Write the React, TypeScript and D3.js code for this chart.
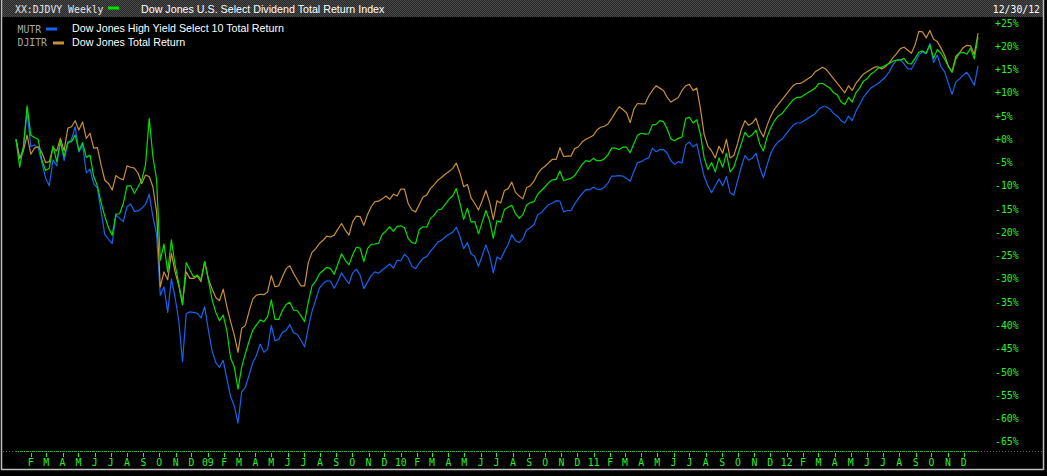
import React from "react";
import * as d3 from "d3";

// Weekly observations, Fri 2008-01-04 .. Fri 2012-12-28 (261 weeks)
const startDate = new Date(2008, 0, 4);
const endDate = new Date(2012, 11, 28);
const weeks: Date[] = d3.timeFriday.range(startDate, d3.timeDay.offset(endDate, 1));

// % change since first week
const djdvy: number[] = [
  0, -6, -1.6, 7.2, 0.9, 0.4, 0, -4.5, -6.7, -6.2,
  -1.4, -4.8, -0.5, -3.7, -0.6, -0.5, 0.9, -2.5, -0.7, -3.9,
  -3.4, -8, -10, -13.6, -16.5, -19, -20.6, -16.1, -16, -13.8,
  -10, -10, -11.6, -10.2, -8.7, -5.5, 4.5, -3.7, -8.7,
  -26, -22.5, -28.5, -21.6, -27, -31, -35.6, -26.5, -28.1, -29.6,
  -29.2, -30.1, -26.3, -30.2, -34.5, -37.2, -39, -37.8, -41.2, -47,
  -48.9, -53.7, -48.9, -46, -43.4, -41, -39.9, -38.8, -39.2, -38.1,
  -34.5, -38.7, -38.7, -36.8, -35.5, -35, -36.7, -36.8, -37.9, -39.2,
  -35,
  -31.5, -30.5, -28.9, -28.2, -27.5, -27.8, -29, -26.8, -24.6, -26,
  -27, -24.8, -23.2, -23.4, -26.3, -23.5, -22.6, -22.5, -22.3, -20.4,
  -19.7, -18.8, -19.8, -18.7, -18.6, -19, -21.3, -22.2, -22.4, -19.4,
  -18.8, -18.9, -17, -16.3, -15.2, -15, -14, -12.9, -12.2, -10.6,
  -13.8, -17.2, -14.8, -17.8, -17.7, -20.3, -17.8, -15.3, -17.5, -21.3,
  -17.5, -17.8, -15.1, -14.6, -14.2, -16, -17, -16.2, -14.1, -13.6,
  -13.4, -11.8, -11, -10.2, -9.3, -8.7, -8.6, -6.8, -8.9, -8.6,
  -8.4, -7.8, -6.6, -5.4, -4.6, -4.8, -4.1, -4.6, -4.6, -4.2,
  -3.3, -1.9, -1.9, -2.2, -1.7, -1.7, -2.9, -0.9, 0.9, 1.3,
  1.1, 1.2, 3.1, 3.2, 4, 3.8, 2.2, 0.1, -0.3, 0.2,
  0.5, 4.5, 4.7, 3.5, 4.2, 1.0,
  -4, -6.5, -5, -7, -4, -6, -3, -7, -6, -3.5,
  -1, 1.5, 0.5, 1, 2, -1, -2.5, 0.5, 2.5, 4,
  5, 5.5, 6.5, 7.5, 8.5, 9, 9, 9.5, 10, 10.5,
  11, 12, 12, 11.5, 11, 10, 9.5, 8, 7.5, 9,
  8, 10, 11, 12.5, 13, 14, 14.5,
  15.3, 15.5, 15.9, 16.3, 16.8, 17, 17, 17.4, 16.3, 16.2,
  17.4, 18.7, 19, 18.5, 20.3, 17.4, 19.3, 18.5, 17.2, 15.6,
  14.4, 17.3, 18.5, 18.7, 18.3, 19.6, 17.3, 22,
];

const mutr: number[] = [
  0, -4.1, -1.8, 5.9, -1.6, -1.2, -1.9, -5, -8.3, -10,
  -4.4, -5.7, -0.4, -4.6, -1, 0, 2.7, -2.7, -1.2, -7.2,
  -6.4, -9.5, -10.5, -15.5, -20.5, -21.5, -22.4, -16.3, -17, -17.7,
  -14.5, -13.9, -15.5, -15.4, -14.8, -14, -11.8, -16.6, -20.5,
  -33.5, -31.7, -37.2, -30, -34, -39, -47.8, -37.5, -37.1, -37.2,
  -37.4, -38.4, -36, -41, -45.5, -48, -49, -47.5, -51.5, -55.3,
  -57.3, -61, -54.3, -53.3, -50.7, -48, -46.4, -44, -45.8, -45.1,
  -40, -43.3, -43, -41.5, -41.1, -39.8, -41.6, -41.9, -43.2, -44.6,
  -40.5,
  -37, -34.5, -32, -31, -30.4, -30.5, -32, -30.5, -28.7, -30,
  -31, -28.7, -27.9, -29.2, -32.1, -30.7, -29.3, -28.5, -28.8, -28.1,
  -27.5, -26.8, -27.7, -26, -26.1, -24.7, -25.5, -27.3, -27.8, -26.6,
  -25.6, -25.2, -24.1, -23.1, -22.1, -21.7, -21, -20.4, -20, -18.9,
  -20.9, -23.5, -22.2, -24.6, -25.2, -27.3, -25, -22.7, -25, -28.7,
  -25.3, -25.8, -24.1, -22.6, -20.5, -21.8, -22.2, -21.4, -19.5, -19,
  -18.3, -16.2, -15.8, -14.8, -14, -13.7, -13.2, -13.3, -15.6, -15.3,
  -15.3, -13.9, -12.7, -11.7, -10.8, -10.9, -10.3, -10.7, -10.8, -10.3,
  -9.4, -7.9, -7.9, -7.8, -7.9, -8.4, -9, -6.9, -5, -4.8,
  -4.3, -4, -1.9, -2.7, -2.2, -2.2, -3, -4.6, -5.4, -4.8,
  -5.1, -1.2, -0.6, -1.6, -1, -4.6,
  -8, -10, -11.5, -10, -8.5, -10, -8, -11.5, -12, -9,
  -6, -3.5, -4.5, -4, -3, -6, -8.3, -5.5, -3, -1.5,
  -0.5, 0, 1, 2, 3, 3.5, 3.5, 4, 4.5, 5,
  5.5, 6.5, 7, 7, 6.5, 5.5, 5, 4, 3.5, 5,
  4, 6, 7.5, 9, 10, 11, 11.5,
  12.0, 12.7, 13.4, 14.5, 16, 17, 17.2, 16.2, 15.2, 15.1,
  16.5, 18.1, 18.8, 18.4, 20.6, 16.5, 18.1, 15.6, 14.5, 12,
  9.7, 12.3, 13, 13.8, 14.4, 13.1, 11.6, 15.8,
];

const djitr: number[] = [
  0, -4.1, -2.5, 0.9, -3.2, -1.9, -1.6, -2.8, -5, -4.8,
  -1.8, -2.5, 0.2, -2.5, 2.4, 2.7, 4, 2, 3.7, 0.2,
  1.3, -1.9, -1.8, -5.5, -8.8, -9.5, -10.9, -7.8, -8.4, -8.7,
  -5.7, -6, -6.2, -7.3, -9.5, -7.7, -8, -10.2, -15.6,
  -31.7, -28.5, -30.2, -24.5, -28.5, -31.5, -35.3, -28.5, -29.9, -29.9,
  -29.4, -30.6, -26.3, -30, -32.2, -34, -34.7, -32.2, -36, -39.2,
  -42.1, -45.8, -40.6, -40, -37, -34.3, -33.5, -33.3, -33.4, -32.8,
  -29.3, -31.7, -31.5, -29.6, -27.8, -27.2, -28.8, -30.2, -31.5, -31.5,
  -26.5,
  -24.3, -23.5, -22.4, -21.7, -20.8, -21, -20.6, -19.3, -18.1, -19.5,
  -20.6, -17.7, -16.5, -16.6, -18.5, -16.2, -14.5, -13.4, -13.3, -12.8,
  -12.2, -12.9, -11.8, -12.2, -10.7, -10.7, -13.8, -15.2, -15.6, -14,
  -12.4, -12, -10.6, -9.8, -8.8, -8.2, -7.5, -6.9, -6.3, -5.1,
  -7.3, -10.2, -9.7, -12.6, -13.8, -15.2, -13.2, -11, -13.5, -17.2,
  -13.2, -13.7, -11, -10.6, -9.2, -11.4, -12.2, -12.8, -10.4, -10,
  -9, -7.4, -6.4, -5.8, -5, -4.3, -4.3, -1.8, -3.7, -3.6,
  -3.6, -2, -1.6, -0.6, 0, 0.4, 0.8, 2, 2.6, 2.8,
  3.3, 4.5, 5.8, 7, 6.4, 5.7, 3.6, 6.5, 7.7, 7.6,
  7.6, 9.3, 10.5,
  11.5, 11, 10.5, 9, 8, 8.5, 9, 10.5, 11.5, 11.8,
  10.5, 11, 6.5, 1, -1.5, -2.5, -4, -1.5, -3, 0,
  -4, -3.5, -1, 2, 4, 3, 3.5, 4.5, 2, 0.5,
  3, 5, 6.5, 7.5, 8.5, 9.5, 10.5, 11.5, 12, 12,
  12.5, 13, 13.5, 14.5, 15, 15.5, 15, 14, 13, 12,
  11, 10, 11.5, 10.5, 12, 13, 14, 14.5, 15, 15.5,
  15.6, 15.1, 15.6, 16.5, 17.5, 18.4, 19.5, 19.8, 19.2, 18.5,
  20.3, 23.2, 23.1, 21.8, 23.4, 21.5, 21, 19.6, 18, 15.7,
  14.6, 17.8, 18.6, 19.7, 20.2, 20.1, 18.2, 22.8,
];

const yTicks: number[] = [25, 20, 15, 10, 5, 0, -5, -10, -15, -20, -25, -30, -35, -40, -45, -50, -55, -60, -65];
const monthLetters: string[] = ["J", "F", "M", "A", "M", "J", "J", "A", "S", "O", "N", "D"];
const monthTicks: Date[] = d3.timeMonth.range(new Date(2008, 1, 1), new Date(2012, 11, 2));

const W = 1047;
const H = 476;
const GREEN = "#00e000";
const BLUE = "#1464f0";
const ORANGE = "#c99035";
const AXIS_GREEN = "#2af02a";
const MONO = "'DejaVu Sans Mono', monospace";
const SANS = "'Liberation Sans', Arial, sans-serif";

export default function App() {
  const x = d3.scaleTime().domain([weeks[0], weeks[weeks.length - 1]]).range([16, 978]);
  const y = d3.scaleLinear().domain([-65, 25]).range([441.7, 23]);

  const line = d3
    .line<number>()
    .x((_, i) => x(weeks[i]))
    .y((d) => y(d));

  const fmt = (v: number) => (v >= 0 ? `+${v}%` : `-${Math.abs(v)}%`);
  const mLabel = (d: Date) => (d.getMonth() === 0 ? d3.timeFormat("%y")(d) : monthLetters[d.getMonth()]);

  return (
    <div style={{ position: "absolute", left: 0, top: 0, width: W, height: H, background: "#000" }}>
      <svg width={W} height={H} style={{ display: "block" }}>
        <defs>
          <pattern id="chk" width="2" height="2" patternUnits="userSpaceOnUse">
            <rect width="2" height="2" fill="#262626" />
            <rect width="1" height="1" fill="#4c4c4c" />
            <rect x="1" y="1" width="1" height="1" fill="#4c4c4c" />
          </pattern>
        </defs>
        <rect width={W} height={H} fill="#000" />
        {/* header band */}
        <rect x={2} y={0} width={1041} height={17} fill="url(#chk)" />
        <text x={15} y={12.5} fontFamily={MONO} fontSize={9.8} fill="#e6e6e6">XX:DJDVY Weekly</text>
        <rect x={108} y={6.5} width={11} height={3} fill={GREEN} />
        <text x={141} y={13} fontFamily={SANS} fontSize={10.7} fill="#ffffff">Dow Jones U.S. Select Dividend Total Return Index</text>
        <text x={1040} y={12.5} textAnchor="end" fontFamily={MONO} fontSize={9.8} fill="#ffffff">12/30/12</text>

        {/* legend */}
        <text x={17.5} y={33} fontFamily={MONO} fontSize={9.8} fill="#a8a8a8">MUTR</text>
        <rect x={46} y={27.5} width={11} height={3} fill={BLUE} />
        <text x={72} y={31.8} fontFamily={SANS} fontSize={10.7} fill="#ffffff">Dow Jones High Yield Select 10 Total Return</text>
        <text x={17.5} y={46.3} fontFamily={MONO} fontSize={9.8} fill="#a8a8a8">DJITR</text>
        <rect x={53} y={41.5} width={11} height={3} fill={ORANGE} />
        <text x={72} y={46} fontFamily={SANS} fontSize={10.7} fill="#ffffff">Dow Jones Total Return</text>

        {/* y axis labels */}
        {yTicks.map((v) => (
          <text key={v} x={995} y={y(v) + 3.6} fontFamily={MONO} fontSize={9.8} fill={AXIS_GREEN}>
            {fmt(v)}
          </text>
        ))}

        {/* x axis */}
        <line x1={3} x2={1042} y1={451.5} y2={451.5} stroke="#6a6a6a" strokeWidth={1} strokeDasharray="1 2" />
        <line x1={x(weeks[0])} x2={x(weeks[weeks.length - 1])} y1={451.5} y2={451.5} stroke={AXIS_GREEN} strokeWidth={1} strokeDasharray="1 1" opacity={0.8} />
        {monthTicks.map((d) => (
          <g key={+d}>
            <line x1={Math.round(x(d)) + 0.5} x2={Math.round(x(d)) + 0.5} y1={453} y2={457} stroke={AXIS_GREEN} strokeWidth={1} />
            <text x={x(d)} y={465.5} textAnchor="middle" fontFamily={MONO} fontSize={9.8} fill={AXIS_GREEN}>
              {mLabel(d)}
            </text>
          </g>
        ))}

        {/* series */}
        <path d={line(mutr) || ""} fill="none" stroke={BLUE} strokeWidth={1.2} strokeLinejoin="round" />
        <path d={line(djitr) || ""} fill="none" stroke={ORANGE} strokeWidth={1.2} strokeLinejoin="round" />
        <path d={line(djdvy) || ""} fill="none" stroke={GREEN} strokeWidth={1.2} strokeLinejoin="round" />

        {/* frame */}
        <line x1={1.5} x2={1.5} y1={0} y2={470} stroke="#bdbdbd" strokeWidth={1.5} />
        <line x1={1043.5} x2={1043.5} y1={0} y2={470} stroke="#bdbdbd" strokeWidth={1.5} />
        <line x1={1.5} x2={1043.5} y1={469.5} y2={469.5} stroke="#bdbdbd" strokeWidth={1.5} />
      </svg>
    </div>
  );
}
